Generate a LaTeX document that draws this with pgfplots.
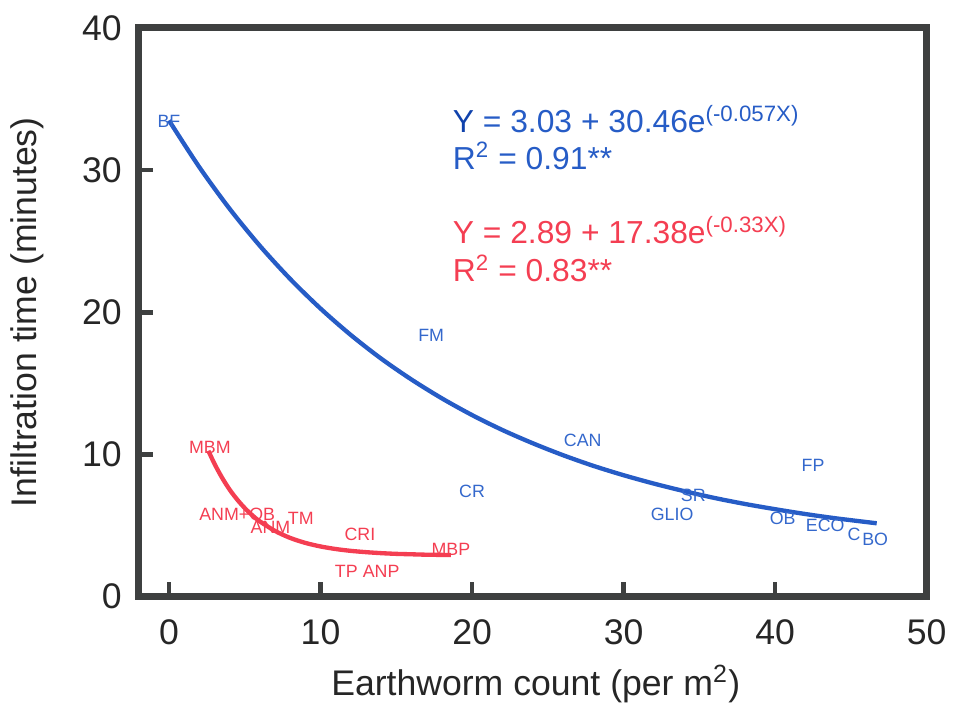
\documentclass[border=0pt]{standalone}
\usepackage{fontspec}
\setmainfont{Liberation Sans}
\usepackage{pgfplots}
\pgfplotsset{compat=1.18}
\definecolor{fitblue}{RGB}{38,92,198}
\definecolor{darkblue}{RGB}{16,66,172}
\definecolor{labblue}{RGB}{52,104,204}
\definecolor{fitred}{RGB}{244,62,82}
\definecolor{frame}{RGB}{62,64,64}
\newcommand{\eqfont}{\fontsize{12.5}{14}\selectfont}
\begin{document}
\begin{tikzpicture}
\begin{axis}[
    scale only axis,
    width=10.89cm, height=7.86cm,
    xmin=-2, xmax=50, ymin=0, ymax=40,
    xtick={0,10,20,30,40,50}, ytick={0,10,20,30,40},
    tick align=inside, tick pos=left,
    major tick length=0.2cm,
    tick style={line width=1.8pt, color=frame},
    axis line style={line width=2.7pt, color=frame},
    /pgf/number format/assume math mode=true,
    ticklabel style={font=\fontsize{14}{16}\selectfont, color=black!85},
    xticklabel style={anchor=north, yshift=-0.19cm},
    yticklabel style={anchor=east, xshift=-0.11cm},
    xlabel={Earthworm count (per m\textsuperscript{2})},
    ylabel={Infiltration time (minutes)},
    label style={font=\fontsize{14}{16}\selectfont, color=black!85},
    xlabel style={at={(axis cs:24.2,-6.15)}, anchor=center},
    ylabel style={at={(axis cs:-9.35,20)}, anchor=center},
    clip=false,
]
% fitted curve, blue group
\addplot[fitblue, line width=1.7pt, smooth] coordinates {
    (0,33.49)(2,30.21)(4,27.28)(6,24.67)(8,22.34)(10,20.26)(12,18.40)
    (14,16.74)(16,15.27)(18,13.95)(20,12.77)(22,11.72)(24,10.79)(26,9.95)
    (28,9.20)(30,8.54)(32,7.95)(34,7.42)(36,6.94)(38,6.52)(40,6.15)
    (42,5.81)(44,5.51)(46.7,5.16)
};
% fitted curve, red group
\addplot[fitred, line width=1.7pt, smooth] coordinates {
    (2.6,10.26)(3,9.35)(3.5,8.37)(4,7.53)(4.5,6.83)(5,6.23)(5.5,5.72)
    (6,5.29)(7,4.62)(8,4.13)(9,3.78)(10,3.53)(11,3.35)(12,3.22)(13,3.13)
    (14,3.06)(15,3.01)(16,2.98)(17,2.95)(18.6,2.93)
};
% point labels
\addplot[draw=none, mark=none, nodes near coords, point meta=explicit symbolic,
    every node near coord/.style={anchor=center, inner sep=0pt,
        font=\fontsize{7}{8}\selectfont, color=labblue}]
    table[meta=lab] {
x y lab
0.0 33.4 BF
17.3 18.4 FM
27.3 11.0 CAN
20.0 7.4 CR
42.5 9.2 FP
34.6 7.1 SR
33.2 5.8 GLIO
40.5 5.5 OB
43.3 5.0 ECO
45.2 4.4 C
46.6 4.0 BO
};
\addplot[draw=none, mark=none, nodes near coords, point meta=explicit symbolic,
    every node near coord/.style={anchor=center, inner sep=0pt,
        font=\fontsize{7}{8}\selectfont, color=fitred}]
    table[meta=lab] {
x y lab
2.7 10.5 MBM
4.5 5.8 ANM+OB
6.7 4.9 ANM
8.7 5.5 TM
12.6 4.4 CRI
18.6 3.3 MBP
11.7 1.8 TP
14.0 1.8 ANP
};
\node[anchor=base west, inner sep=0pt, color=fitblue, font=\eqfont]
    at (axis cs:18.7,32.66) {\textcolor{darkblue}{Y} = 3.03 + 30.46e\textsuperscript{(-0.057X)}};
\node[anchor=base west, inner sep=0pt, color=fitblue, font=\eqfont]
    at (axis cs:18.7,30.07) {R\textsuperscript{2} = 0.91**};
\node[anchor=base west, inner sep=0pt, color=fitred, font=\eqfont]
    at (axis cs:18.7,24.83) {Y = 2.89 + 17.38e\textsuperscript{(-0.33X)}};
\node[anchor=base west, inner sep=0pt, color=fitred, font=\eqfont]
    at (axis cs:18.7,22.17) {R\textsuperscript{2} = 0.83**};
% page extent, as in the reference
\path (axis cs:-11.15,41.96) (axis cs:51.5,-8.04);
\end{axis}
\end{tikzpicture}
\end{document}
